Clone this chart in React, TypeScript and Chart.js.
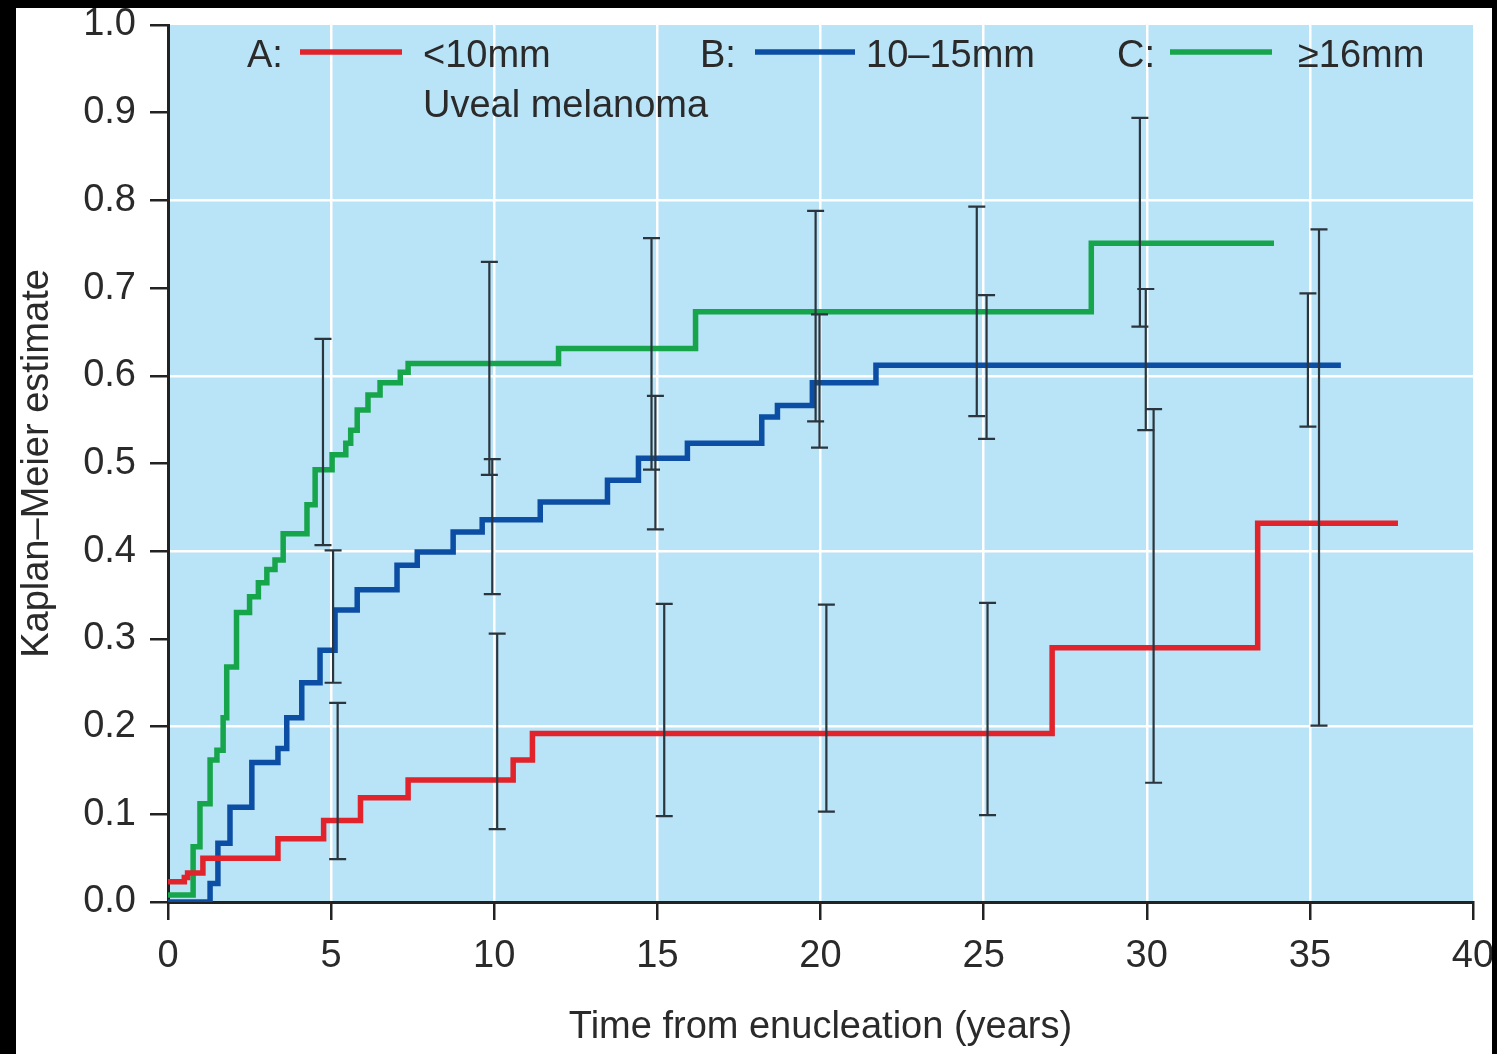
import { useEffect, useRef } from 'react';
import { Chart, registerables } from 'chart.js';

Chart.register(...registerables);

// ---- Data ----
const xTickValues = [0, 5, 10, 15, 20, 25, 30, 35, 40];

// Group A: <10mm (red)
const redTimes = [0, 0.37, 0.5, 0.6, 1.07, 3.37, 4.77, 5.9, 7.36, 10.58, 11.17, 27.1, 33.4, 37.7];
const redValues = [0.023, 0.023, 0.028, 0.033, 0.05, 0.072, 0.093, 0.119, 0.139, 0.162, 0.192, 0.29, 0.432, 0.432];

// Group B: 10–15mm (blue)
const blueTimes = [0, 1.29, 1.53, 1.9, 2.57, 3.37, 3.64, 4.1, 4.66, 5.12, 5.8, 7.02, 7.64, 8.74, 9.63, 11.41, 13.47, 14.42, 15.92, 18.2, 18.68, 19.75, 21.7, 35.95];
const blueValues = [0.0, 0.021, 0.067, 0.108, 0.159, 0.175, 0.21, 0.25, 0.287, 0.333, 0.356, 0.384, 0.399, 0.422, 0.436, 0.456, 0.481, 0.506, 0.523, 0.553, 0.566, 0.592, 0.612, 0.612];

// Group C: >=16mm (green)
const greenTimes = [0, 0.77, 0.98, 1.29, 1.5, 1.69, 1.8, 2.1, 2.5, 2.77, 3.03, 3.28, 3.53, 4.26, 4.51, 5.03, 5.45, 5.6, 5.8, 6.13, 6.5, 7.12, 7.36, 11.97, 16.17, 28.3, 33.9];
const greenValues = [0.008, 0.063, 0.112, 0.162, 0.173, 0.21, 0.268, 0.33, 0.348, 0.364, 0.379, 0.39, 0.42, 0.453, 0.493, 0.51, 0.523, 0.538, 0.561, 0.578, 0.592, 0.604, 0.614, 0.631, 0.673, 0.751, 0.751];

// Confidence-interval error bars
const greenErrTimes = [4.75, 9.85, 14.82, 19.85, 24.79, 29.79];
const greenErrLow = [0.407, 0.487, 0.493, 0.548, 0.554, 0.656];
const greenErrHigh = [0.642, 0.73, 0.757, 0.788, 0.793, 0.894];

const blueErrTimes = [5.06, 9.94, 14.94, 19.97, 25.09, 29.97, 34.94];
const blueErrLow = [0.25, 0.351, 0.425, 0.518, 0.528, 0.538, 0.542];
const blueErrHigh = [0.401, 0.505, 0.577, 0.67, 0.692, 0.699, 0.694];

const redErrTimes = [5.2, 10.09, 15.21, 20.18, 25.12, 30.21, 35.28];
const redErrLow = [0.049, 0.083, 0.098, 0.103, 0.099, 0.136, 0.201];
const redErrHigh = [0.227, 0.306, 0.34, 0.339, 0.341, 0.562, 0.767];

const legendLetters = ['A:', 'B:', 'C:'];
const legendLabels = ['<10mm', '10–15mm', '≥16mm'];
const legendSubtitle = 'Uveal melanoma';
const xTitle = 'Time from enucleation (years)';
const yTitle = 'Kaplan–Meier estimate';

// ---- Styles ----
const RED = '#e1232b';
const BLUE = '#0b4ea3';
const GREEN = '#17a54b';
const PLOT_BG = '#b9e3f7';
const TEXT = '#2a2a2a';
const AXIS = '#222';
const ERR = '#2a353d';
const FONT = "'Liberation Sans', Arial, sans-serif";

const toPts = (t: number[], v: number[]) => t.map((x, i) => ({ x, y: v[i] }));

export default function App() {
  const ref = useRef<HTMLCanvasElement | null>(null);

  useEffect(() => {
    const canvas = ref.current;
    if (!canvas) return;

    const decor = {
      id: 'decor',
      beforeDraw(chart: any) {
        const { ctx, chartArea: a } = chart;
        ctx.save();
        ctx.fillStyle = '#ffffff';
        ctx.fillRect(0, 0, chart.width, chart.height);
        ctx.fillStyle = PLOT_BG;
        ctx.fillRect(a.left, a.top, a.right - a.left, a.bottom - a.top);
        ctx.restore();
      },
      afterDatasetsDraw(chart: any) {
        const { ctx } = chart;
        const xs = chart.scales.x;
        const ys = chart.scales.y;
        const groups = [
          [greenErrTimes, greenErrLow, greenErrHigh],
          [blueErrTimes, blueErrLow, blueErrHigh],
          [redErrTimes, redErrLow, redErrHigh],
        ];
        ctx.save();
        ctx.strokeStyle = ERR;
        ctx.lineWidth = 2.2;
        const cap = 8.5;
        for (const [ts, lo, hi] of groups) {
          ts.forEach((t: number, i: number) => {
            const px = xs.getPixelForValue(t);
            const p1 = ys.getPixelForValue(lo[i]);
            const p2 = ys.getPixelForValue(hi[i]);
            ctx.beginPath();
            ctx.moveTo(px, p1);
            ctx.lineTo(px, p2);
            ctx.moveTo(px - cap, p1);
            ctx.lineTo(px + cap, p1);
            ctx.moveTo(px - cap, p2);
            ctx.lineTo(px + cap, p2);
            ctx.stroke();
          });
        }
        ctx.restore();
      },
      afterDraw(chart: any) {
        const { ctx } = chart;
        ctx.save();
        ctx.font = `38px ${FONT}`;
        ctx.fillStyle = TEXT;
        ctx.textBaseline = 'alphabetic';
        ctx.textAlign = 'left';
        const items = [
          { lx: 247, x1: 300, x2: 402, tx: 423, color: RED },
          { lx: 700, x1: 755, x2: 855, tx: 866, color: BLUE },
          { lx: 1117, x1: 1170, x2: 1272, tx: 1298, color: GREEN },
        ];
        items.forEach((it, i) => {
          ctx.fillStyle = TEXT;
          ctx.fillText(legendLetters[i], it.lx, 67);
          ctx.fillText(legendLabels[i], it.tx, 67);
          ctx.strokeStyle = it.color;
          ctx.lineWidth = 5.5;
          ctx.beginPath();
          ctx.moveTo(it.x1, 52);
          ctx.lineTo(it.x2, 52);
          ctx.stroke();
        });
        ctx.fillStyle = TEXT;
        ctx.fillText(legendSubtitle, 423, 117);
        // black photo border
        ctx.fillStyle = '#000';
        ctx.fillRect(0, 0, chart.width, 8);
        ctx.fillRect(0, 0, 16, chart.height);
        ctx.fillRect(1492, 0, chart.width - 1492, chart.height);
        ctx.restore();
      },
    };

    const lineDs = (label: string, t: number[], v: number[], color: string) => ({
      label,
      data: toPts(t, v),
      borderColor: color,
      backgroundColor: color,
      borderWidth: 5.5,
      pointRadius: 0,
      stepped: true,
      fill: false,
      borderJoinStyle: 'miter',
      borderCapStyle: 'butt',
    });

    const chart = new Chart(canvas, {
      type: 'line',
      data: {
        datasets: [
          lineDs(legendLabels[0], redTimes, redValues, RED),
          lineDs(legendLabels[1], blueTimes, blueValues, BLUE),
          lineDs(legendLabels[2], greenTimes, greenValues, GREEN),
        ] as any,
      },
      options: {
        responsive: false,
        animation: false,
        layout: { padding: { left: 0, top: 25, right: 24, bottom: 0 } },
        plugins: {
          legend: { display: false },
          tooltip: { enabled: false },
        },
        scales: {
          x: {
            type: 'linear',
            min: 0,
            max: 40,
            afterFit(scale: any) {
              scale.height = 152;
              scale.paddingLeft = 0;
              scale.paddingRight = 0;
            },
            afterBuildTicks(scale: any) {
              scale.ticks = xTickValues.map((value) => ({ value }));
            },
            border: { color: AXIS, width: 3 },
            grid: {
              color: (c: any) => {
                const v = c.tick ? c.tick.value : 0;
                return v > 0 && v < 40 ? '#ffffff' : 'rgba(0,0,0,0)';
              },
              lineWidth: 2.5,
              tickColor: AXIS,
              tickWidth: 2.5,
              tickLength: 18,
            },
            ticks: {
              color: TEXT,
              font: { family: FONT, size: 38 },
              padding: 14,
              maxRotation: 0,
              callback: (v: any) => String(v),
            },
            title: {
              display: true,
              text: xTitle,
              color: TEXT,
              font: { family: FONT, size: 38 },
              padding: { top: 0, bottom: 4 },
            },
          },
          y: {
            type: 'linear',
            min: 0,
            max: 1,
            afterFit(scale: any) {
              scale.width = 168;
              scale.paddingTop = 0;
              scale.paddingBottom = 0;
            },
            border: { color: AXIS, width: 3 },
            grid: {
              color: (c: any) => {
                const v = c.tick ? Math.round(c.tick.value * 10) : 0;
                return v > 0 && v < 10 && v % 2 === 0 ? '#ffffff' : 'rgba(0,0,0,0)';
              },
              lineWidth: 2.5,
              tickColor: AXIS,
              tickWidth: 2.5,
              tickLength: 18,
            },
            ticks: {
              stepSize: 0.1,
              color: TEXT,
              font: { family: FONT, size: 38 },
              padding: 14,
              callback: (v: any) => Number(v).toFixed(1),
            },
            title: {
              display: true,
              text: yTitle,
              color: TEXT,
              font: { family: FONT, size: 38 },
              padding: { top: 15, bottom: 0 },
            },
          },
        },
      },
      plugins: [decor],
    } as any);

    return () => chart.destroy();
  }, []);

  return (
    <canvas
      ref={ref}
      width={1497}
      height={1054}
      style={{ position: 'absolute', left: 0, top: 0, width: 1497, height: 1054 }}
    />
  );
}
